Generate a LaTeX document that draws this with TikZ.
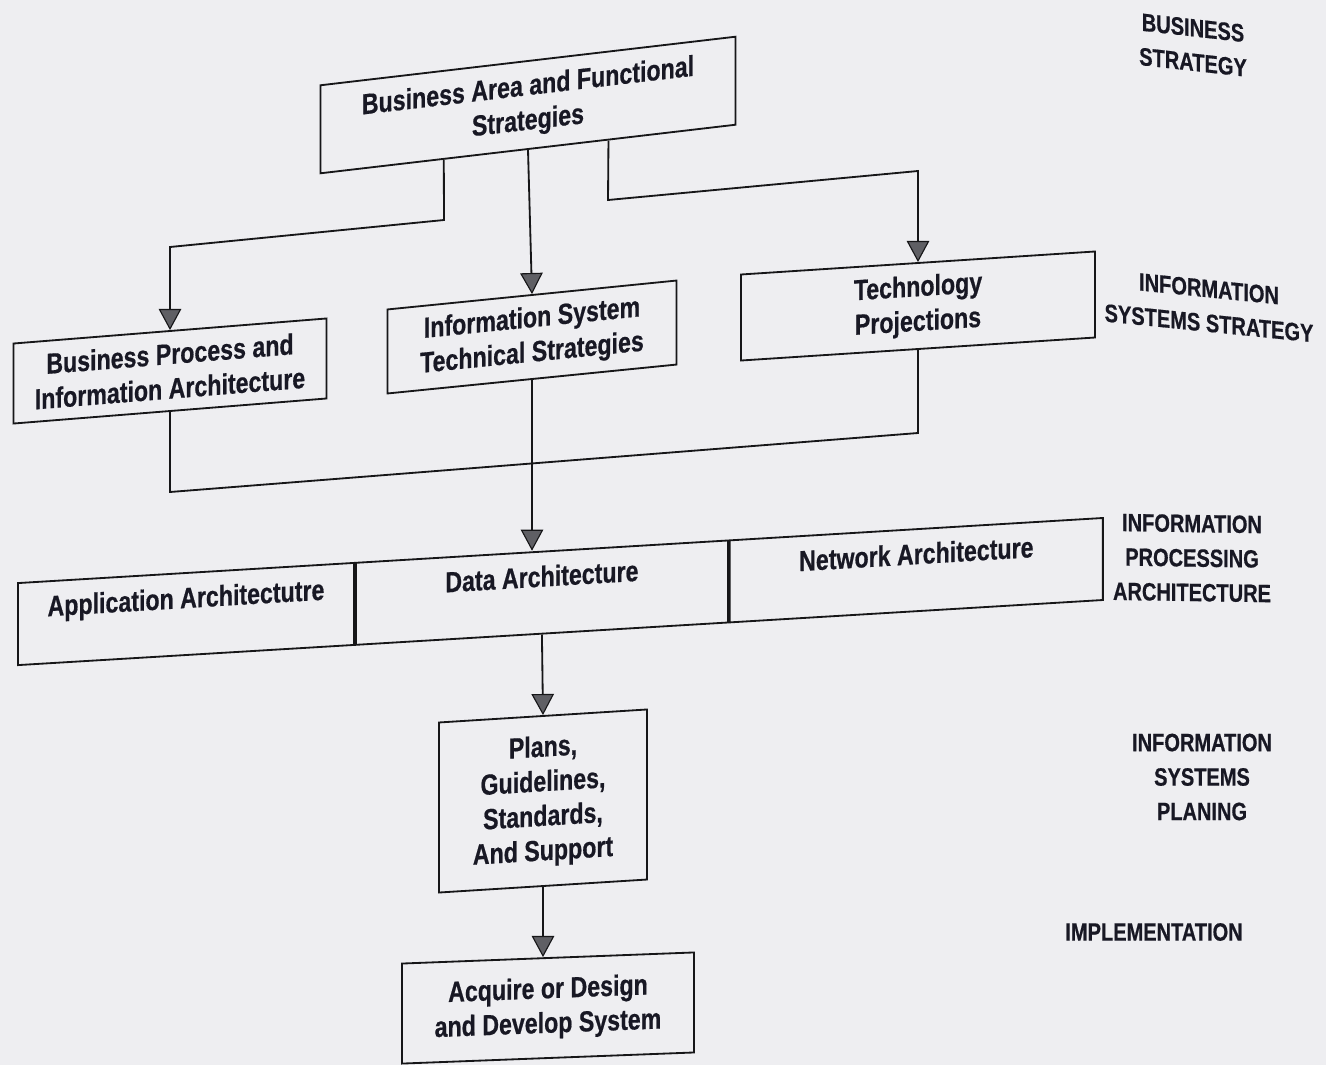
\documentclass[tikz,border=0pt]{standalone}
\usepackage{fontspec}
\usepackage{tikz}
\usetikzlibrary{arrows.meta, positioning, calc}

\newfontfamily\diagsans{Liberation Sans Bold}[FakeStretch=0.8, FakeBold=0.6]
\newcommand\blockfont{\diagsans\fontsize{20.6pt}{24.6pt}\selectfont}
\newcommand\tierfont{\diagsans\fontsize{17.8pt}{24.5pt}\selectfont}

\definecolor{paper}{RGB}{238,238,241}
\definecolor{ink}{RGB}{22,22,24}
\definecolor{letter}{RGB}{24,24,36}
\definecolor{tipgray}{RGB}{95,95,100}

\tikzset{
  block/.style={draw=ink, line width=1.3pt, text=letter, font=\blockfont, align=center, inner sep=0pt},
  pcell/.style={draw=ink, line width=1.3pt, text=letter, font=\blockfont, inner sep=0pt, text height=0.875cm, text depth=1.175cm, yslant=0.06},
  tier/.style={text=letter, font=\tierfont, align=center, inner sep=0pt},
  link/.style={draw=ink, line width=1.3pt},
  flow/.style={link, -{Triangle[width=16pt, length=15pt, line width=0.8pt, fill=tipgray]}}
}

\begin{document}
\begin{tikzpicture}[x=0.025cm, y=-0.025cm]
    % strategy levels, top to bottom
    \fill[paper] (0,0) rectangle (1326,1065);
    \useasboundingbox (0,0) rectangle (1326,1065);

    \node[block, yslant=0.117, minimum width=10.375cm, minimum height=2.2cm] (bafs) at (528,105) {Business Area and Functional\\Strategies};
    \node[block, yslant=0.08, minimum width=7.825cm, minimum height=2cm] (bpia) at (170,371) {Business Process and\\Information Architecture};
    \node[block, yslant=0.1, minimum width=7.225cm, minimum height=2.1cm] (isst) at (532,337) {Information System\\Technical Strategies};
    \node[block, yslant=0.065, minimum width=8.85cm, minimum height=2.15cm] (tp) at (918,306) {Technology\\Projections};

    \node[pcell, minimum width=8.4cm] (app) at (186,614) {Application Architectutre};
    \node[pcell, minimum width=9.3cm, right=0pt of app] (data) {Data Architecture};
    \node[pcell, minimum width=9.325cm, right=0pt of data] (net) {Network Architecture};

    \node[block, yslant=0.0625, minimum width=5.2cm, minimum height=4.25cm] (plans) at (543,801) {Plans,\\Guidelines,\\Standards,\\And Support};
    \node[block, yslant=0.038, minimum width=7.3cm, minimum height=2.5cm] (acq) at (548,1008) {Acquire or Design\\and Develop System};

    \node[tier, yslant=-0.11] (bizstr) at (1193,45) {BUSINESS\\STRATEGY};
    \node[tier, yslant=-0.1] (isstr) at (1209,306) {INFORMATION\\SYSTEMS STRATEGY};
    \node[tier, yslant=-0.015] (iparch) at (1192,558) {INFORMATION\\PROCESSING\\ARCHITECTURE};
    \node[tier] (isplan) at (1202,777) {INFORMATION\\SYSTEMS\\PLANING};
    \node[tier] (implem) at (1154,932) {IMPLEMENTATION};

    \coordinate (legL) at ($(bafs.south west)!0.298!(bafs.south east)$);
    \coordinate (legR) at ($(bafs.south west)!0.693!(bafs.south east)$);
    \coordinate (kneeL1) at (444,220);
    \coordinate (kneeL2) at (170,247);
    \coordinate (kneeR1) at (608,200);
    \coordinate (kneeR2) at (918,171);
    \coordinate (kneeB1) at (170,492);
    \coordinate (kneeB2) at (918,433);

    \draw[flow] (legL) -- (kneeL1) -- (kneeL2) -- (bpia.north);
    \draw[flow] (bafs.south) -- (isst.north);
    \draw[flow] (legR) -- (kneeR1) -- (kneeR2) -- (tp.north);
    \draw[link] (bpia.south) -- (kneeB1) -- (kneeB2) -- (tp.south);
    \draw[flow] (isst.south) -- (isst.south |- data.north);
    \draw[flow] (data.south) -- (plans.north);
    \draw[flow] (plans.south) -- (plans.south |- acq.north);
\end{tikzpicture}
\end{document}
